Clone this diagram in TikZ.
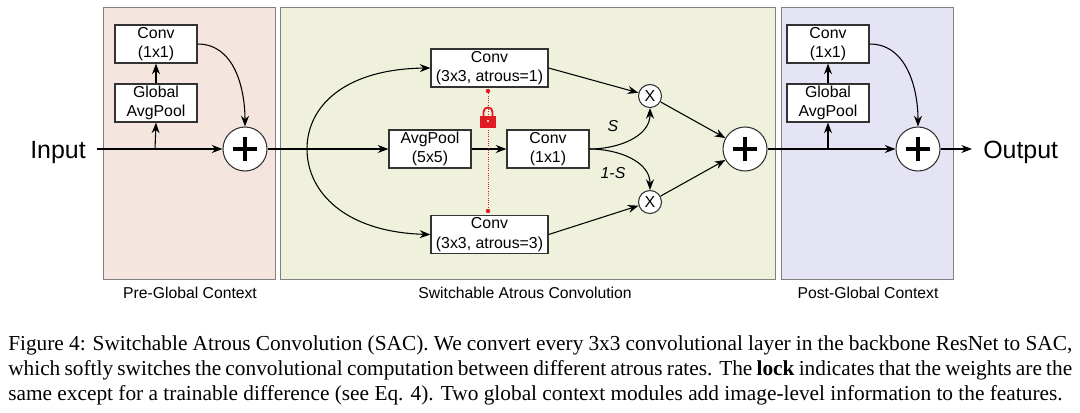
\documentclass[tikz,border=0pt]{standalone}
\usepackage{fontspec}
\setmainfont{Liberation Serif}
\setsansfont{Liberation Sans}
\usetikzlibrary{arrows.meta}
\definecolor{prefill}{HTML}{F4E6DE}
\definecolor{sacfill}{HTML}{EFF1DC}
\definecolor{postfill}{HTML}{E5E4F4}
\definecolor{lockred}{HTML}{E01B24}
\begin{document}
\begin{tikzpicture}[x=0.75pt,y=-0.75pt,
  panel/.style={draw=black!50, line width=0.8pt, inner sep=0pt, anchor=north west, minimum height=204pt},
  box/.style={draw=black!80, fill=white, line width=0.9pt, font=\sffamily\fontsize{11.9}{14.5}\selectfont, align=center, inner sep=0pt, minimum height=28.5pt},
  sbox/.style={box, minimum width=61.5pt},
  wbox/.style={box, minimum width=87.75pt},
  plusc/.style={circle, draw=black!80, fill=white, line width=0.8pt, minimum size=33pt, inner sep=0pt},
  mulc/.style={circle, draw=black!80, fill=white, line width=0.8pt, minimum size=17.25pt, inner sep=0pt, font=\sffamily\fontsize{12}{12}\selectfont},
  conn/.style={draw=black, line width=0.8pt, -{Stealth[length=8pt,width=6pt]}},
  plusbar/.style={draw=black, line width=2.7pt},
  plab/.style={font=\sffamily\fontsize{11.8}{14}\selectfont, inner sep=0pt},
  big/.style={font=\sffamily\fontsize{18.7}{22}\selectfont, inner sep=0pt},
  slab/.style={font=\sffamily\itshape\fontsize{11.9}{14}\selectfont, inner sep=0pt},
]
\useasboundingbox[fill=white] (0,0) rectangle (1080,412);

% panels
\node[panel, fill=prefill, minimum width=129pt] (pre) at (103,7) {};
\node[panel, fill=sacfill, minimum width=371.25pt] (sac) at (280,7) {};
\node[panel, fill=postfill, minimum width=129pt] (post) at (781,7) {};
\node[plab] (prel) at (190,293) {Pre-Global Context};
\node[plab] (sacl) at (525,293) {Switchable Atrous Convolution};
\node[plab] (postl) at (868,293) {Post-Global Context};

% pre-global context
\node[sbox] (pconv) at (156,44) {Conv\\(1x1)};
\node[sbox] (pgap) at (156,103) {Global\\AvgPool};
\node[plusc] (plus1) at (245,149) {};

% SAC
\node[wbox] (conv1) at (489.5,68) {Conv\\(3x3, atrous=1)};
\node[wbox] (conv3) at (489.5,234.5) {Conv\\(3x3, atrous=3)};
\node[sbox] (avgpool) at (430,149) {AvgPool\\(5x5)};
\node[sbox] (conv11) at (548,149) {Conv\\(1x1)};
\node[mulc] (mul1) at (650,96) {X};
\node[mulc] (mul2) at (650,202) {X};
\node[plusc] (plus2) at (745,149) {};

% post-global context
\node[sbox] (qconv) at (828,44) {Conv\\(1x1)};
\node[sbox] (qgap) at (828,103) {Global\\AvgPool};
\node[plusc] (plus3) at (918,149) {};

% plus signs
\foreach \c in {plus1,plus2,plus3}{
  \draw[plusbar] ([xshift=-9.3pt]\c.center) -- ([xshift=9.3pt]\c.center);
  \draw[plusbar] ([yshift=-9.3pt]\c.center) -- ([yshift=9.3pt]\c.center);
}

% input / output
\node[big, anchor=base east] (input) at (86,158) {Input};
\node[big, anchor=base west] (output) at (983,158) {Output};
\coordinate (in0) at (97,149);
\coordinate (b1) at (155,149);
\coordinate (e0) at (307,149);
\coordinate (b2) at (828,149);
\coordinate (outend) at (972,149);

% connectors: pre
\draw[conn] (in0) -- (plus1.west);
\draw[conn] (b1) -- (pgap.south);
\draw[conn] (pgap.north) -- (pconv.south);
\draw[conn] (pconv.east) to[out=0,in=90] (plus1.north);
\draw[conn] (plus1.east) -- (avgpool.west);

% SAC
\draw[conn] (e0) .. controls (307,106) and (345,69) .. (conv1.west);
\draw[conn] (e0) .. controls (307,192) and (345,232) .. (conv3.west);
\draw[conn] (avgpool.east) -- (conv11.west);
\draw[conn] (conv11.east) to[out=0,in=-90] (mul1.south);
\draw[conn] (conv11.east) to[out=0,in=90] (mul2.north);
\draw[conn] (conv1.east) -- (mul1);
\draw[conn] (conv3.east) -- (mul2);
\draw[conn] (mul1) -- (plus2);
\draw[conn] (mul2) -- (plus2);
\node[slab] (slabel) at (613,126) {S};
\node[slab] (oslabel) at (613,173) {1-S};

% post
\draw[conn] (plus2.east) -- (plus3.west);
\draw[conn] (b2) -- (qgap.south);
\draw[conn] (qgap.north) -- (qconv.south);
\draw[conn] (qconv.east) to[out=0,in=90] (plus3.north);
\draw[conn] (plus3.east) -- (outend);

% lock
\draw[lockred, densely dotted, line width=0.7pt] (488,91) -- (488,211);
\fill[lockred] (488,91) circle (2.2);
\fill[lockred] (488,211) circle (2.2);
\draw[lockred, line width=1.4pt] (483.5,117) -- (483.5,112) .. controls (483.5,106) and (492.5,106) .. (492.5,112) -- (492.5,117);
\fill[lockred] (480,116) rectangle (496,128);
\fill[white] (488,121) circle (1.2);

% caption
\node[anchor=north west, inner sep=0pt, text width=798pt, align=justify, font=\fontsize{16}{18.9}\selectfont] (cap) at (8,335) {Figure 4: Switchable Atrous Convolution (SAC). We convert every 3x3 convolutional layer in the backbone ResNet to SAC,\linebreak which softly switches the convolutional computation between different atrous rates. The \textbf{lock} indicates that the weights are the\linebreak same except for a trainable difference (see Eq. 4). Two global context modules add image-level information to the features.};
\end{tikzpicture}
\end{document}
